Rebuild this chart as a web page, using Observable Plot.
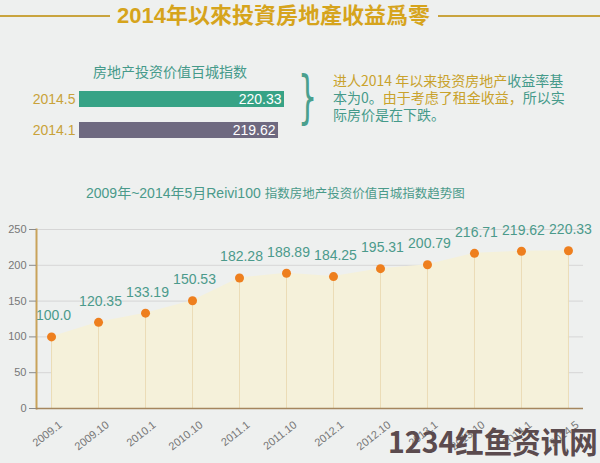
<!DOCTYPE html>
<html><head><meta charset="utf-8">
<script src="https://cdn.jsdelivr.net/npm/d3@7"></script>
<script src="https://cdn.jsdelivr.net/npm/@observablehq/plot@0.6"></script>
<style>
body{margin:0;background:#eef0ef;width:600px;height:463px;overflow:hidden;position:relative;font-family:"Liberation Sans","Noto Sans CJK SC",sans-serif}
.abs{position:absolute;white-space:nowrap}
.gold{color:#c9a22c}
.teal{color:#459a8a}
#note span{display:inline-block;line-height:17px;height:17px;vertical-align:top}
#note div{height:17px}
</style></head><body>
<div class="abs" style="left:0;top:3px;width:600px;height:26px;display:flex;align-items:center">
  <div style="width:110px;height:1.5px;background:#c9a43e"></div>
  <div style="margin:0 8px 0 7px;font-family:'Liberation Sans','Noto Sans CJK TC',sans-serif;font-weight:bold;font-size:22px;line-height:26px;color:#d6a41c" id="maintitle"></div>
  <div style="flex:1;height:1.5px;background:#c9a43e"></div>
</div>
<div class="abs teal" id="bartitle" style="left:93px;top:61px;font-size:14px;line-height:20px;font-family:'Noto Sans CJK SC',sans-serif"></div>
<div id="bars" class="abs" style="left:0;top:76px"></div>
<div class="abs teal" style="left:298px;top:77px;font-size:30px;line-height:40px;transform:scaleY(1.9);transform-origin:0 50%;font-family:'DejaVu Sans',sans-serif;color:#4aa08e">}</div>
<div class="abs" id="note" style="left:333px;top:72px;font-size:14px;line-height:17px;font-family:'Noto Sans CJK SC',sans-serif"></div>
<div class="abs teal" id="charttitle" style="left:86px;top:183px;line-height:20px;color:#4a9a8a"></div>
<div id="chart" class="abs" style="left:0;top:215px"></div>
<div class="abs" id="wm" style="left:388px;top:420px;font-size:30px;line-height:40px;font-weight:bold;color:#5b4b4e;font-family:'Noto Sans CJK SC',sans-serif;transform:scaleX(0.95);transform-origin:0 50%"></div>
<script>
// ---- data ----
const mainTitle = "2014年以來投資房地產收益爲零";
const barTitle = "房地产投资价值百城指数";
const compareDates = ["2014.5", "2014.1"];
const compareValues = [220.33, 219.62];
const barBase = 196; // index value where the comparison bars start
const noteLines = [
  [["进人2014 年以来投资房地产", "gold"], ["收益率基", "teal"]],
  [["本为0。", "teal"], ["由于考虑了租金收益，", "gold"], ["所以实", "teal"]],
  [["际房价是在下跌。", "teal"]]
];
const chartTitleA = "2009年~2014年5月Reivi100 ";
const chartTitleB = "指数房地产投资价值百城指数趋势图";
const months = ["2009.1","2009.10","2010.1","2010.10","2011.1","2011.10","2012.1","2012.10","2013.1","2013.10","2014.1","2014.5"];
const indexValues = [100.0,120.35,133.19,150.53,182.28,188.89,184.25,195.31,200.79,216.71,219.62,220.33];
const valueLabels = ["100.0","120.35","133.19","150.53","182.28","188.89","184.25","195.31","200.79","216.71","219.62","220.33"];
const yTicks = [0, 50, 100, 150, 200, 250];
const watermark = "1234红鱼资讯网";

// ---- text ----
document.getElementById("maintitle").textContent = mainTitle;
document.getElementById("bartitle").textContent = barTitle;
document.getElementById("wm").textContent = watermark;
document.getElementById("note").innerHTML = noteLines.map(line =>
  "<div>" + line.map(([t, c]) => `<span class="${c}">${t}</span>`).join("") + "</div>").join("");
document.getElementById("charttitle").innerHTML =
  `<span style="font-size:14px">${chartTitleA}</span><span style="font-size:12.5px;font-family:'Noto Sans CJK SC',sans-serif">${chartTitleB}</span>`;

// ---- comparison bars ----
const cmp = compareDates.map((d, i) => ({date: d, value: compareValues[i]}));
const bars = Plot.plot({
  width: 300, height: 78, marginTop: 0, marginBottom: 0, marginLeft: 79, marginRight: 16,
  style: {background: "transparent", fontFamily: "Liberation Sans, sans-serif", overflow: "visible"},
  x: {domain: [barBase, compareValues[0]], axis: null},
  y: {type: "band", domain: compareDates, padding: 0.48, axis: null},
  color: {domain: compareDates, range: ["#37a386", "#6e6980"]},
  marks: [
    Plot.barX(cmp, {x1: barBase, x2: "value", y: "date", fill: "date"}),
    Plot.text(cmp, {x: "value", y: "date", text: d => d.value.toFixed(2), textAnchor: "end", dx: -3, fill: "white", fontSize: 14}),
    Plot.axisY({tickSize: 0, tickPadding: 4, fill: "#c9a23a", fontSize: 14, label: null})
  ]
});
document.getElementById("bars").appendChild(bars);

// ---- main chart ----
const data = months.map((m, i) => ({month: m, value: indexValues[i], label: valueLabels[i]}));
const chart = Plot.plot({
  width: 600, height: 248, marginTop: 14, marginBottom: 55, marginLeft: 36, marginRight: 17,
  style: {background: "transparent", fontFamily: "Liberation Sans, sans-serif", overflow: "visible"},
  x: {type: "point", domain: months, padding: 0.32, round: false, axis: null},
  y: {domain: [0, 250], axis: null},
  marks: [
    Plot.gridY(yTicks, {stroke: "#d6d6d6", strokeOpacity: 1}),
    Plot.areaY(data, {x: "month", y: "value", fill: "#f5f1da"}),
    Plot.ruleX(data, {x: "month", y1: 0, y2: "value", stroke: "#ebdcb6", strokeWidth: 1}),
    Plot.frame({anchor: "left", stroke: "#c9a35a", strokeWidth: 2}),
    Plot.ruleY([0], {stroke: "#a5865e", strokeWidth: 1.5}),
    Plot.axisY(yTicks, {tickSize: 7, tickPadding: 3, stroke: "#8a8a8a", fill: "#777", fontSize: 11, label: null}),
    Plot.axisX({tickSize: 0, tickPadding: 15, tickRotate: -38, fill: "#777", fontSize: 11, dx: 9, label: null}),
    Plot.dot(data, {x: "month", y: "value", r: 4.5, fill: "#ee7f1e"}),
    Plot.text(data, {x: "month", y: "value", text: "label", dy: -21, dx: 2, fill: "#4b9a8b", fontSize: 14})
  ]
});
document.getElementById("chart").appendChild(chart);
</script>
</body></html>
